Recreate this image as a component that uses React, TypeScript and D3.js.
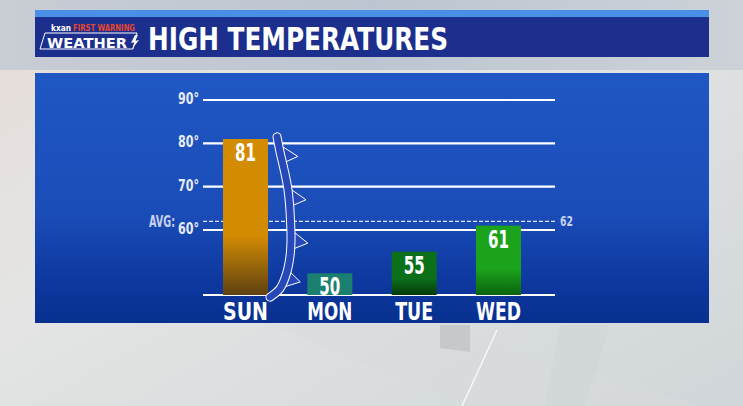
import React from "react";
import * as d3 from "d3";

const days = ["SUN", "MON", "TUE", "WED"];
const highs = [81, 50, 55, 61];
const barTop = ["#d38b02", "#1b8070", "#0c6f1a", "#1ca31c"];
const barBottom = ["#5e4212", "#1b8070", "#053a0b", "#0b6410"];
const yTicks = [60, 70, 80, 90];
const avgTemp = 62;
// cold front path, in (offset-from-SUN-bar-right px, temperature) terms
const frontTemps = [81.5, 78, 74, 70, 66, 62, 58, 54, 50, 46.5, 44.5];
const frontOffsets = [9, 12, 16, 19.5, 21.5, 22.5, 23, 22, 18.5, 12, 2];
const frontTeeth = [0.12, 0.37, 0.62, 0.85];

const W = 743;
const H = 406;
const font = "'DejaVu Sans', sans-serif";

const T = (props: any) => <text fontFamily={font} fontWeight="bold" lengthAdjust="spacingAndGlyphs" {...props} />;

const dayWidth = (d: string) => (d === "TUE" ? 38 : 45);

export default function App() {
  const y = d3.scaleLinear().domain([45, 90]).range([295, 100]);
  const x = d3.scaleBand<string>().domain(days).range([223, 521]).paddingInner(0.466).paddingOuter(0);
  const bw = x.bandwidth();
  const gx0 = 203;
  const gx1 = 555;

  const sunRight = (x("SUN") as number) + bw;
  const frontPts: [number, number][] = frontTemps.map((t, i) => [sunRight + frontOffsets[i], y(t)]);
  const frontLine = d3.line().curve(d3.curveCatmullRom)(frontPts) as string;

  const teeth = frontTeeth.map((f) => {
    const idx = f * (frontPts.length - 1);
    const i0 = Math.floor(idx);
    const i1 = Math.min(i0 + 1, frontPts.length - 1);
    const tt = idx - i0;
    const px = frontPts[i0][0] + (frontPts[i1][0] - frontPts[i0][0]) * tt;
    const py = frontPts[i0][1] + (frontPts[i1][1] - frontPts[i0][1]) * tt;
    const dx = frontPts[i1][0] - frontPts[i0][0];
    const dy = frontPts[i1][1] - frontPts[i0][1];
    const len = Math.hypot(dx, dy) || 1;
    const ux = dx / len, uy = dy / len;
    const a: [number, number] = [px - ux * 12, py - uy * 12];
    const b: [number, number] = [px + ux * 8, py + uy * 8];
    const tip: [number, number] = [px + 17, py + 1];
    return [a, tip, b];
  });

  return (
    <div style={{ position: "fixed", left: 0, top: 0, width: W, height: H }}>
      <svg width={W} height={H} style={{ display: "block" }}>
        <defs>
          <linearGradient id="bg" x1="0" y1="0" x2="1" y2="1">
            <stop offset="0" stopColor="#e6dcd8" />
            <stop offset="0.4" stopColor="#e4e5e4" />
            <stop offset="1" stopColor="#d0d6d9" />
          </linearGradient>
          <linearGradient id="sky" x1="0" y1="0" x2="1" y2="0">
            <stop offset="0" stopColor="#c9cdd4" />
            <stop offset="0.5" stopColor="#bcc5d1" />
            <stop offset="1" stopColor="#cdd2d8" />
          </linearGradient>
          <linearGradient id="panel" x1="0" y1="0" x2="0" y2="1">
            <stop offset="0" stopColor="#1f57c4" />
            <stop offset="0.55" stopColor="#1b4db8" />
            <stop offset="0.8" stopColor="#0f3aa2" />
            <stop offset="1" stopColor="#07308f" />
          </linearGradient>
          {days.map((d, i) => (
            <linearGradient key={d} id={`bar${i}`} x1="0" y1="0" x2="0" y2="1">
              <stop offset="0" stopColor={barTop[i]} />
              <stop offset="0.62" stopColor={barTop[i]} />
              <stop offset="1" stopColor={barBottom[i]} />
            </linearGradient>
          ))}
        </defs>
        <rect x={0} y={0} width={W} height={H} fill="url(#bg)" />
        <rect x={0} y={0} width={W} height={70} fill="url(#sky)" />
        <polygon points="270,325 440,325 700,406 470,406" fill="#d8dbdc" opacity={0.6} />
        <polygon points="440,325 470,325 470,352 440,348" fill="#b9bdc0" opacity={0.6} />
        <line x1={497} y1={330} x2={462} y2={406} stroke="#f7f8f8" strokeWidth={1.5} />
        <polygon points="560,325 610,325 585,406 545,406" fill="#cfd5d7" opacity={0.6} />

        {/* header */}
        <rect x={35} y={10} width={674} height={8} fill="#4a8fe6" />
        <rect x={35} y={17} width={674} height={40} fill="#1c2f8d" />
        <T x={51} y={31} fill="#ffffff" fontSize={8} textLength={20}>kxan</T>
        <T x={73} y={31} fill="#e8452c" fontSize={8} textLength={62}>FIRST WARNING</T>
        <polygon points="45,33 137,33 133,49 40,49" fill="none" stroke="#ffffff" strokeWidth={1} />
        <T x={47} y={48} fill="#ffffff" fontSize={14} textLength={80}>WEATHER</T>
        <polygon points="135,35 131,43 135,42 132,49 139,40 135,41 138,35" fill="#ffffff" />
        <T x={148} y={50} fill="#ffffff" fontSize={32} textLength={300}>HIGH TEMPERATURES</T>

        {/* panel */}
        <rect x={35} y={73} width={674} height={250} fill="url(#panel)" />

        {/* gridlines */}
        {yTicks.map((t) => (
          <g key={t}>
            <line x1={gx0} x2={gx1} y1={y(t)} y2={y(t)} stroke="#ffffff" strokeWidth={2.2} />
            <T x={178} y={y(t) + 4} fill="#e8ecf6" fontSize={15} textLength={21}>
              {`${t}°`}
            </T>
          </g>
        ))}
        <line x1={gx0} x2={gx1} y1={y(45)} y2={y(45)} stroke="#ffffff" strokeWidth={2.2} />
        <line x1={gx0} x2={gx1} y1={y(avgTemp)} y2={y(avgTemp)} stroke="#dfe6f6" strokeWidth={1.4} strokeDasharray="4 2" />
        <T x={149} y={y(avgTemp) + 6} fill="#c7d2ee" fontSize={15} textLength={26}>AVG:</T>
        <T x={560} y={y(avgTemp) + 5} fill="#c7d2ee" fontSize={14} textLength={13}>{`${avgTemp}`}</T>

        {/* bars */}
        {days.map((d, i) => (
          <g key={d}>
            <rect x={x(d)} y={y(highs[i])} width={bw} height={y(45) - y(highs[i])} fill={`url(#bar${i})`} />
            <T
              x={(x(d) as number) + bw / 2 - 10.5}
              y={y(highs[i]) + 22}
              fill="#ffffff"
              fontSize={25}
              textLength={21}
            >
              {`${highs[i]}`}
            </T>
            <T
              x={(x(d) as number) + bw / 2 - dayWidth(d) / 2}
              y={320}
              fill="#ffffff"
              fontSize={25}
              textLength={dayWidth(d)}
            >
              {d}
            </T>
          </g>
        ))}

        {/* cold front */}
        {teeth.map((tri, i) => (
          <polygon key={i} points={tri.map((p) => p.join(",")).join(" ")} fill="#2748b8" stroke="#ffffff" strokeWidth={1} />
        ))}
        <path d={frontLine} fill="none" stroke="#ffffff" strokeWidth={9} strokeLinecap="round" />
        <path d={frontLine} fill="none" stroke="#2748b8" strokeWidth={7} strokeLinecap="round" />
      </svg>
    </div>
  );
}
